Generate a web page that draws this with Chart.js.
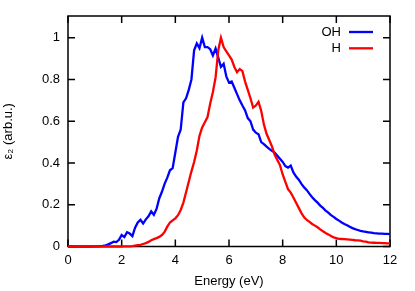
<!DOCTYPE html>
<html><head><meta charset="utf-8">
<script src="https://cdn.jsdelivr.net/npm/chart.js@4/dist/chart.umd.min.js"></script>
<style>html,body{margin:0;padding:0;background:#fff;}#wrap{width:415px;height:291px;}</style>
</head><body><div id="wrap"><canvas id="c" width="415" height="291"></canvas></div>
<script>
const energy = [0.0,0.1,0.2,0.3,0.4,0.5,0.6,0.7,0.8,0.9,1.0,1.1,1.2,1.3,1.4,1.5,1.6,1.7,1.8,1.9,
2.0,2.1,2.2,2.3,2.4,2.5,2.6,2.7,2.8,2.9,3.0,3.1,3.2,3.3,3.4,3.5,3.6,3.7,3.8,3.9,
4.0,4.1,4.2,4.3,4.4,4.5,4.6,4.7,4.8,4.9,5.0,5.1,5.2,5.3,5.4,5.5,5.6,5.7,5.8,5.9,
6.0,6.1,6.2,6.3,6.4,6.5,6.6,6.7,6.8,6.9,7.0,7.1,7.2,7.3,7.4,7.5,7.6,7.7,7.8,7.9,
8.0,8.1,8.2,8.3,8.4,8.5,8.6,8.7,8.8,8.9,9.0,9.1,9.2,9.3,9.4,9.5,9.6,9.7,9.8,9.9,
10.0,10.1,10.2,10.3,10.4,10.5,10.6,10.7,10.8,10.9,11.0,11.1,11.2,11.3,11.4,11.5,11.6,11.7,11.8,11.9,12.0];

const ohValues = [0,0,0,0,0,0,0,0,0,0,0.001,0.001,0.002,0.003,0.006,0.01,0.016,0.023,0.021,0.032,
0.055,0.045,0.068,0.062,0.05,0.09,0.115,0.128,0.11,0.13,0.145,0.168,0.152,0.18,0.23,0.262,0.30,0.33,0.365,0.375,
0.45,0.525,0.56,0.69,0.71,0.75,0.80,0.94,0.973,0.95,1.0,0.955,0.955,0.945,0.915,0.948,0.905,0.86,0.875,0.815,
0.785,0.79,0.76,0.73,0.70,0.675,0.652,0.615,0.60,0.56,0.545,0.538,0.50,0.49,0.478,0.468,0.458,0.45,0.435,0.42,
0.405,0.385,0.378,0.388,0.355,0.335,0.32,0.30,0.283,0.27,0.252,0.236,0.222,0.21,0.196,0.185,0.172,0.162,0.15,0.142,
0.132,0.124,0.115,0.108,0.102,0.095,0.088,0.083,0.079,0.075,0.072,0.07,0.068,0.066,0.064,0.063,0.062,0.062,0.06,0.06,0.059];

const hValues = [0,0,0,0,0,0,0,0,0,0,0,0,0,0,0,0,0,0,0,0,
0,0.001,0.001,0.001,0.002,0.004,0.006,0.008,0.012,0.016,0.022,0.03,0.035,0.04,0.046,0.055,0.07,0.095,0.115,0.125,
0.135,0.15,0.175,0.21,0.26,0.31,0.36,0.405,0.46,0.53,0.57,0.595,0.62,0.685,0.74,0.81,0.94,1.0,0.955,0.935,
0.915,0.895,0.86,0.835,0.85,0.84,0.79,0.75,0.71,0.665,0.675,0.693,0.65,0.585,0.54,0.51,0.48,0.44,0.415,0.39,
0.345,0.31,0.275,0.258,0.235,0.21,0.185,0.16,0.14,0.127,0.118,0.108,0.1,0.092,0.082,0.073,0.065,0.058,0.05,0.044,
0.04,0.037,0.036,0.035,0.034,0.033,0.032,0.03,0.029,0.028,0.025,0.023,0.02,0.019,0.018,0.017,0.017,0.016,0.016,0.015,0.015];

const seriesNames = ['OH', 'H'];
const xTicks = [0, 2, 4, 6, 8, 10, 12];
const yTicks = [0, 0.2, 0.4, 0.6, 0.8, 1];
const yTickLabels = ['0', '0.2', '0.4', '0.6', '0.8', '1'];
const xTitle = 'Energy (eV)';
const yTitle = 'ε\u2082 (arb.u.)';

const FONT = '"Liberation Sans", Arial, Helvetica, "DejaVu Sans", sans-serif';
const FS = 13;

function pts(vals){ return energy.map((e,i)=>({x:e, y:vals[i]})); }

const framePlugin = {
  id: 'frame',
  beforeDatasetsDraw(chart){
    const {ctx, chartArea:a, scales:{x, y}} = chart;
    ctx.save();
    ctx.strokeStyle = '#000';
    ctx.lineWidth = 1.5;
    ctx.strokeRect(a.left, a.top, a.right - a.left, a.bottom - a.top);
    ctx.beginPath();
    x.ticks.forEach(t => {
      const p = x.getPixelForValue(t.value);
      ctx.moveTo(p, a.bottom); ctx.lineTo(p, a.bottom - 7);
      ctx.moveTo(p, a.top); ctx.lineTo(p, a.top + 7);
    });
    y.ticks.forEach(t => {
      const p = y.getPixelForValue(t.value);
      ctx.moveTo(a.left, p); ctx.lineTo(a.left + 7, p);
      ctx.moveTo(a.right, p); ctx.lineTo(a.right - 7, p);
    });
    ctx.stroke();
    ctx.restore();
  },
  afterDatasetsDraw(chart){
    const {ctx} = chart;
    ctx.save();
    ctx.font = FS + 'px ' + FONT;
    ctx.textAlign = 'right';
    ctx.textBaseline = 'middle';
    chart.data.datasets.forEach((ds, i) => {
      const yy = 32 + i * 16.3;
      ctx.fillStyle = '#000';
      ctx.fillText(ds.label, 341, yy + 0.5);
      ctx.strokeStyle = ds.borderColor;
      ctx.lineWidth = 2.3;
      ctx.beginPath();
      ctx.moveTo(349, yy); ctx.lineTo(373, yy);
      ctx.stroke();
    });
    ctx.restore();
  }
};

new Chart(document.getElementById('c'), {
  type: 'line',
  data: {
    datasets: [
      {label: seriesNames[0], data: pts(ohValues), borderColor: '#0000ff', borderWidth: 2.3, pointRadius: 0, tension: 0, fill: false, clip: false, order: 1},
      {label: seriesNames[1], data: pts(hValues), borderColor: '#ff0000', borderWidth: 2.3, pointRadius: 0, tension: 0, fill: false, clip: false, order: 0}
    ]
  },
  options: {
    responsive: false,
    animation: false,
    devicePixelRatio: 1,
    layout: {padding: {left: 0, right: 25, top: 16, bottom: 0}},
    plugins: {legend: {display: false}, tooltip: {enabled: false}},
    scales: {
      x: {
        type: 'linear', min: 0, max: 12,
        grid: {display: false, drawTicks: false},
        border: {display: false},
        afterBuildTicks: s => { s.ticks = xTicks.map(v => ({value: v})); },
        afterFit: s => { s.height = 44.5; },
        ticks: {color: '#000', font: {family: FONT, size: FS}, padding: 6, maxRotation: 0, autoSkip: false,
                callback: v => String(v)},
        title: {display: true, text: xTitle, color: '#000', font: {family: FONT, size: FS}, padding: {top: 0, bottom: 2}}
      },
      y: {
        type: 'linear', min: 0, max: 1.104,
        grid: {display: false, drawTicks: false},
        border: {display: false},
        afterBuildTicks: s => { s.ticks = yTicks.map(v => ({value: v})); },
        afterFit: s => { s.width = 68; },
        ticks: {color: '#000', font: {family: FONT, size: FS}, padding: 8, autoSkip: false,
                callback: (v, i) => yTickLabels[yTicks.indexOf(v)] ?? ''},
        title: {display: true, text: yTitle, color: '#000', font: {family: FONT, size: FS}, padding: {top: 1, bottom: 0}}
      }
    }
  },
  plugins: [framePlugin]
});
</script></body></html>
